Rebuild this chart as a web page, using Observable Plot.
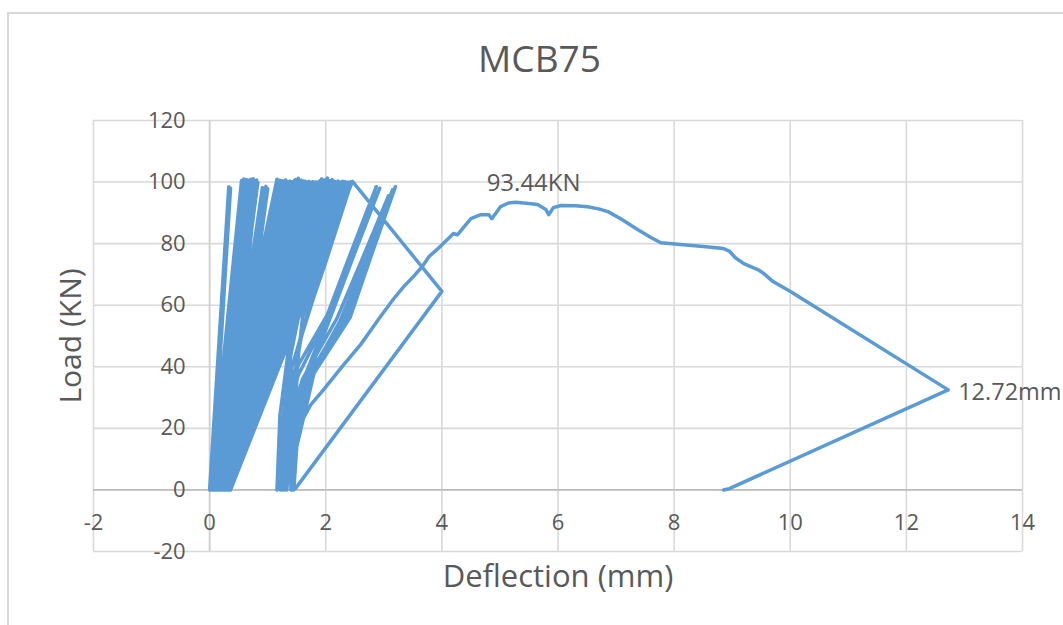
<!DOCTYPE html>
<html>
<head>
<meta charset="utf-8">
<script src="https://cdn.jsdelivr.net/npm/d3@7"></script>
<script src="https://cdn.jsdelivr.net/npm/@observablehq/plot@0.6"></script>
<style>
  html, body { margin: 0; padding: 0; background: #fff; overflow: hidden; }
  #frame { position: absolute; left: 7px; top: 12px; width: 1100px; height: 700px; border: 2px solid #d9d9d9; }
  #chart { position: absolute; left: 0; top: 0; }
</style>
</head>
<body>
<div id="frame"></div>
<div id="chart"></div>
<script>
// ---- Data ----
const chartTitle = "MCB75";
const xAxisTitle = "Deflection (mm)";
const yAxisTitle = "Load (KN)";
const xTicks = [-2, 0, 2, 4, 6, 8, 10, 12, 14];
const yTicks = [-20, 0, 20, 40, 60, 80, 100, 120];

// early load cycles: peak deflection, peak load, residual deflection after unloading
const cyclePeakDefl = [0.33, 0.36,
  0.55, 0.57, 0.59, 0.61, 0.63, 0.65, 0.67, 0.69, 0.71, 0.73, 0.75, 0.77, 0.79, 0.81, 0.83,
  0.91, 0.94, 0.97, 1.00,
  1.16, 1.18, 1.21, 1.23, 1.26, 1.28, 1.31, 1.33, 1.36, 1.38,
  1.41, 1.43, 1.46, 1.48, 1.51, 1.53, 1.56, 1.58, 1.61, 1.63,
  1.66, 1.68, 1.71, 1.73, 1.76, 1.78, 1.81, 1.83, 1.86, 1.88,
  1.91, 1.93, 1.96, 1.98, 2.01, 2.03, 2.06, 2.08, 2.11, 2.13,
  2.16, 2.18, 2.21, 2.23, 2.26, 2.28, 2.31, 2.33, 2.36, 2.38,
  2.41, 2.43, 2.46];
const cyclePeakLoad = [98.5, 98.0,
  100.5, 100.2, 101.0, 100.4, 100.8, 100.1, 100.6, 99.8, 100.9, 100.3, 101.1, 100.5, 100.0, 100.7, 99.9,
  98.2, 97.4, 98.6, 97.8,
  100.9, 100.3, 100.6, 99.9, 100.4, 100.0, 100.7, 100.2, 99.6, 100.3,
  100.1, 99.7, 100.5, 100.8, 100.9, 101.2, 100.4, 100.6, 99.9, 100.3,
  100.1, 99.8, 100.2, 99.6, 99.9, 100.1, 99.7, 100.0, 99.8, 100.2,
  100.6, 101.0, 100.4, 100.7, 100.9, 101.3, 100.5, 100.2, 100.8, 100.4,
  100.1, 99.9, 100.3, 100.0, 99.7, 100.2, 99.8, 100.1, 99.6, 100.0,
  99.8, 100.1, 100.2];
const cycleResidualDefl = [0.02, 0.04,
  0.01, 0.10, 0.04, 0.16, 0.07, 0.21, 0.03, 0.13, 0.25, 0.06, 0.18, 0.09, 0.28, 0.05, 0.14,
  0.22, 0.08, 0.30, 0.12,
  0.03, 0.19, 0.33, 0.10, 0.24, 0.06, 0.29, 0.15, 0.35, 0.08,
  0.21, 0.12, 0.31, 0.04, 0.26, 0.17, 0.34, 0.09, 0.23, 0.14,
  0.32, 0.06, 0.27, 0.19, 0.35, 0.11, 0.24, 0.16, 0.33, 0.08,
  0.28, 0.20, 0.36, 0.13, 0.25, 0.10, 0.31, 0.18, 0.34, 0.22,
  0.29, 0.15, 0.36, 0.24, 0.32, 0.20, 0.35, 0.27, 0.33, 0.30,
  0.36, 0.36];

// later reloading cycles
const reloadDefl = [4.00, 1.48, 1.42,
  1.46, 1.52, 1.60, 2.00, 2.38, 1.95, 1.55, 1.22,
  1.26, 1.40, 1.55, 1.95, 2.30, 1.85, 1.42, 1.16,
  1.21, 1.36, 1.50, 2.05, 2.44, 2.00, 1.60, 1.30, 1.24,
  1.27, 1.45, 2.03, 2.45, 2.87, 2.45, 2.08, 1.62, 1.32, 1.27,
  1.31, 1.52, 2.08, 2.50, 2.93, 2.50, 2.12, 1.66, 1.36, 1.30,
  1.33, 1.60, 2.20, 2.65, 3.08, 2.62, 2.25, 1.70, 1.38, 1.33,
  1.36, 1.64, 2.30, 2.75, 3.15, 2.75, 2.35, 1.75, 1.45, 1.40,
  1.40, 1.68, 2.37, 2.80, 3.20, 2.80, 2.42, 1.80, 1.50, 1.45];
const reloadLoad = [64.5, 0.5, 0,
  20, 42, 56, 80, 99.5, 72, 48, 0,
  22, 44, 58, 79, 100.2, 68, 40, 0,
  24, 46, 57, 83, 99.8, 74, 52, 20, 0,
  20, 38, 57, 78, 98.5, 77, 58, 36, 12, 0,
  18, 37, 58, 79, 98.0, 77, 58, 35, 12, 0,
  18, 36, 56, 76, 95.5, 72, 55, 36, 12, 0,
  17, 35, 56, 78, 97.5, 76, 56, 37, 13, 0,
  16, 35, 55.7, 78, 98.5, 77, 56, 38, 14, 0];

// final monotonic loading to failure and unloading
const finalDefl = [1.48, 1.52, 1.74, 1.96, 2.31, 2.60, 2.95, 3.17, 3.35, 3.52, 3.66, 3.78, 3.98, 4.20, 4.27,
  4.50, 4.67, 4.81, 4.86, 5.01, 5.15, 5.27, 5.45, 5.65, 5.79, 5.84, 5.92, 6.05, 6.30, 6.51, 6.70, 6.86,
  7.08, 7.37, 7.60, 7.77, 8.11, 8.50, 8.85, 8.95, 9.05, 9.20, 9.45, 9.55, 9.71, 10.01, 12.72, 8.95, 8.85];
const finalLoad = [10, 20, 27.6, 32.5, 40.7, 47.2, 56.5, 62.1, 66.2, 69.5, 72.5, 75.8, 79.2, 83.3, 82.9,
  88.1, 89.4, 89.4, 88.1, 92.0, 93.2, 93.44, 93.1, 92.7, 91.1, 89.4, 91.7, 92.4, 92.3, 92.0, 91.3, 90.4,
  88.1, 84.6, 82.0, 80.3, 79.7, 79.1, 78.4, 77.6, 75.5, 73.5, 71.5, 70.2, 67.6, 64.4, 32.5, 0.4, 0];

const peakLoadLabel = "93.44KN";
const peakLoadAt = [5.27, 93.44];
const maxDeflLabel = "12.72mm";
const maxDeflAt = [12.72, 32.5];

// ---- Build path table ----
const path = [{x: 0, y: 0}];
cyclePeakDefl.forEach((p, i) => {
  path.push({x: p, y: cyclePeakLoad[i]});
  if (i < cycleResidualDefl.length) path.push({x: cycleResidualDefl[i], y: 0});
});
reloadDefl.forEach((d, i) => path.push({x: d, y: reloadLoad[i]}));
finalDefl.forEach((d, i) => path.push({x: d, y: finalLoad[i]}));

const textColor = "#595959";
const font = "'Open Sans', 'DejaVu Sans', sans-serif";

const chart = Plot.plot({
  width: 1063,
  height: 625,
  marginLeft: 93,
  marginRight: 41,
  marginTop: 120,
  marginBottom: 74,
  x: {domain: [-2, 14], axis: null},
  y: {domain: [-20, 120], axis: null},
  style: {fontFamily: font, color: textColor, background: "transparent"},
  marks: [
    Plot.ruleX(xTicks, {stroke: "#d9d9d9", strokeWidth: 1.6}),
    Plot.ruleY(yTicks, {stroke: "#d9d9d9", strokeWidth: 1.6}),
    Plot.ruleX([0], {stroke: "#cfcfcf", strokeWidth: 1.6}),
    Plot.ruleY([0], {stroke: "#bfbfbf", strokeWidth: 1.8}),
    Plot.line(path, {x: "x", y: "y", stroke: "#5b9bd5", strokeWidth: 3.5, strokeLinejoin: "round", strokeLinecap: "round", curve: "linear"}),
    Plot.text(xTicks, {x: d => d, y: 0, dy: 33, text: d => String(d), fontSize: 22, fill: textColor}),
    Plot.text(yTicks, {x: 0, y: d => d, dx: -24, textAnchor: "end", text: d => String(d), fontSize: 22, fill: textColor}),
    Plot.text([peakLoadLabel], {x: peakLoadAt[0], y: peakLoadAt[1], dx: 18, dy: -19, text: d => d, fontSize: 24, fill: textColor}),
    Plot.text([maxDeflLabel], {x: maxDeflAt[0], y: maxDeflAt[1], dx: 10, dy: 3, textAnchor: "start", text: d => d, fontSize: 23.5, fill: textColor}),
    Plot.text([xAxisTitle], {frameAnchor: "bottom", dy: 26, lineAnchor: "middle", textAnchor: "middle", text: d => d, fontSize: 31, fill: textColor}),
    Plot.text([yAxisTitle], {frameAnchor: "left", dx: -22, rotate: -90, lineAnchor: "middle", textAnchor: "middle", text: d => d, fontSize: 30, fill: textColor}),
    Plot.text([chartTitle], {frameAnchor: "top", dx: -18.5, dy: -60, lineAnchor: "middle", textAnchor: "middle", text: d => d, fontSize: 37, fill: textColor})
  ]
});
document.getElementById("chart").appendChild(chart);
</script>
</body>
</html>
